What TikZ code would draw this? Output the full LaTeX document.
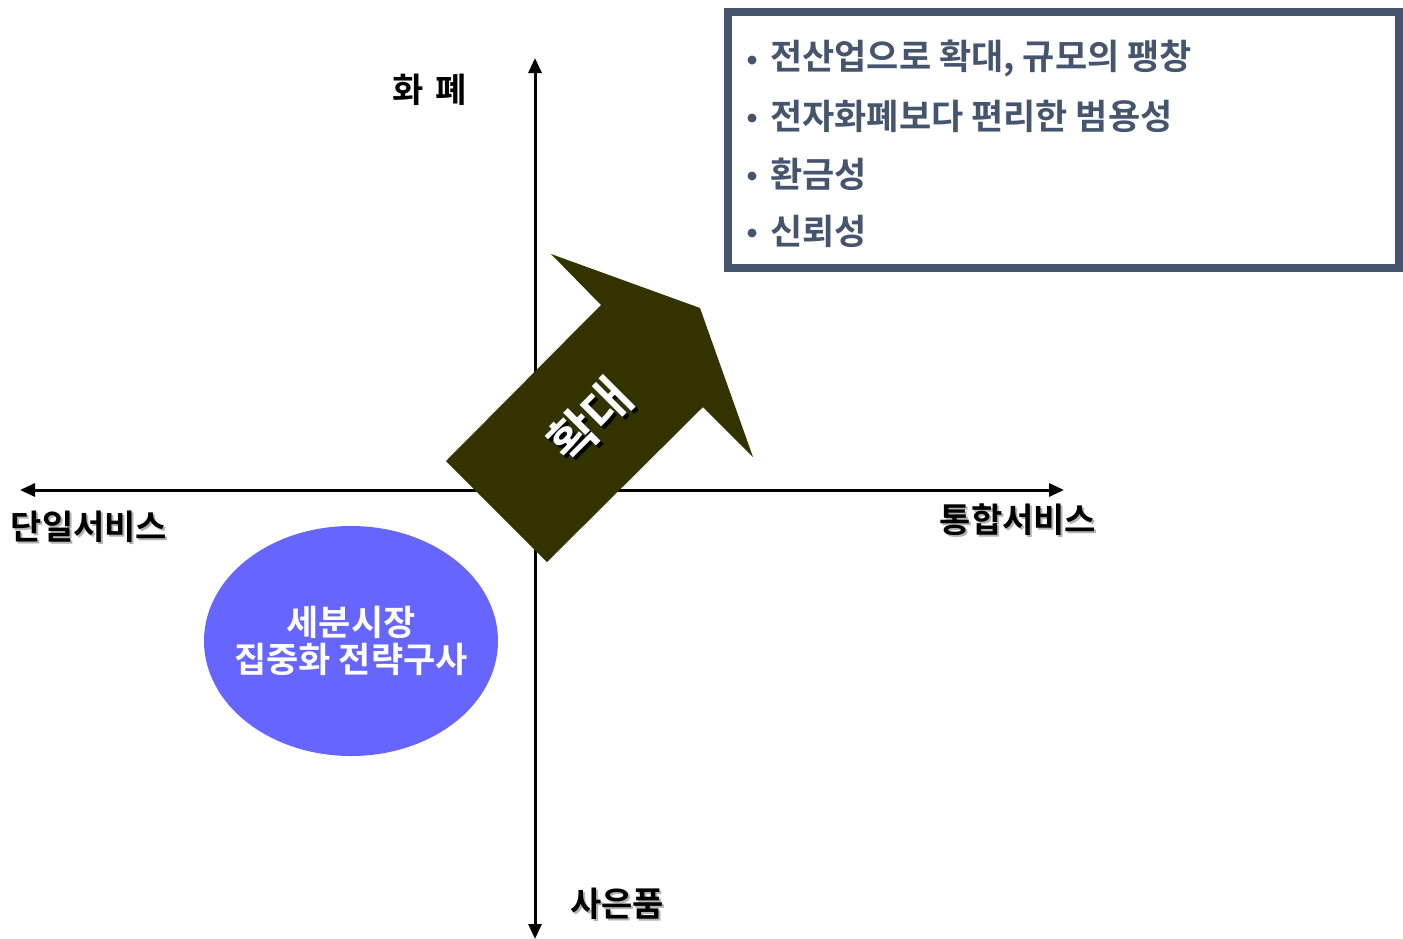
\documentclass[tikz,border=0pt]{standalone}
\usepackage{fontspec}
\setmainfont{Noto Sans CJK KR}[BoldFont={Noto Sans CJK KR Bold}]
\usetikzlibrary{arrows.meta,calc,shapes.geometric}
\definecolor{slate}{HTML}{45556E}
\definecolor{olive}{HTML}{333300}
\definecolor{ellblue}{HTML}{6666FF}
\tikzset{
  axis/.style={line width=3pt, -{Triangle[length=15pt,width=13pt]}},
  lbl/.style={font=\fontsize{34}{40}\selectfont\bfseries, inner sep=0pt},
  boxtxt/.style={font=\fontsize{35}{40}\selectfont\bfseries, text=slate, inner sep=0pt, anchor=west},
  bul/.style={circle, fill=slate, inner sep=0pt, minimum size=9pt},
  elltxt/.style={font=\fontsize{35}{37}\selectfont\bfseries, text=white, align=center, inner sep=0pt},
  growtxt/.style={font=\fontsize{50}{54}\selectfont\bfseries, rotate=45, inner sep=0pt},
}
\newcommand{\shadowlabel}[3]{%
  \node[lbl, text=black!30] at ($(#1)+(2,2)$) {#3};
  \node[lbl] (#2) at (#1) {#3};}
\begin{document}
\begin{tikzpicture}[x=1pt,y=-1pt]
\useasboundingbox (0,0) rectangle (1403,938);
% axes
\coordinate (o) at (535,490);
\coordinate (xl) at (20,490);
\coordinate (xr) at (1064,490);
\coordinate (yt) at (535,58);
\coordinate (yb) at (535,939);
\draw[axis] (o) -- (xl);
\draw[axis] (o) -- (xr);
\draw[axis] (o) -- (yt);
\draw[axis] (o) -- (yb);
% labels
\coordinate (ph) at (430,90);
\node[lbl] (hwape) at (ph) {화\hspace{12pt}폐};
\coordinate (p1) at (89,527);
\shadowlabel{p1}{single}{단일서비스}
\coordinate (p2) at (1018,520);
\shadowlabel{p2}{integ}{통합서비스}
\coordinate (p3) at (617,904);
\shadowlabel{p3}{gift}{사은품}
% ellipse
\node[ellipse, fill=ellblue, minimum width=294pt, minimum height=230pt, inner sep=0pt] (ell) at (351,641) {};
\node[elltxt] (elltext) at (ell.center) {세분시장\\집중화 전략구사};
% big arrow
\fill[olive] (446,461) -- (601,305) -- (551,254) -- (700,308) -- (753,457) -- (703,407) -- (547,562) -- cycle;
\node[growtxt, text=black] at (593,423) {확대};
\node[growtxt, text=white] (grow) at (590,420) {확대};
% box
\draw[slate, line width=8pt] (728,12) rectangle (1399,268);
\node[bul] (b1) at (752,60) {};
\node[boxtxt] (t1) at (770,58) {전산업으로 확대, 규모의 팽창};
\node[bul] (b2) at (752,118) {};
\node[boxtxt] (t2) at (770,116) {전자화폐보다 편리한 범용성};
\node[bul] (b3) at (752,176) {};
\node[boxtxt] (t3) at (770,174) {환금성};
\node[bul] (b4) at (752,233) {};
\node[boxtxt] (t4) at (770,231) {신뢰성};
\end{tikzpicture}
\end{document}
